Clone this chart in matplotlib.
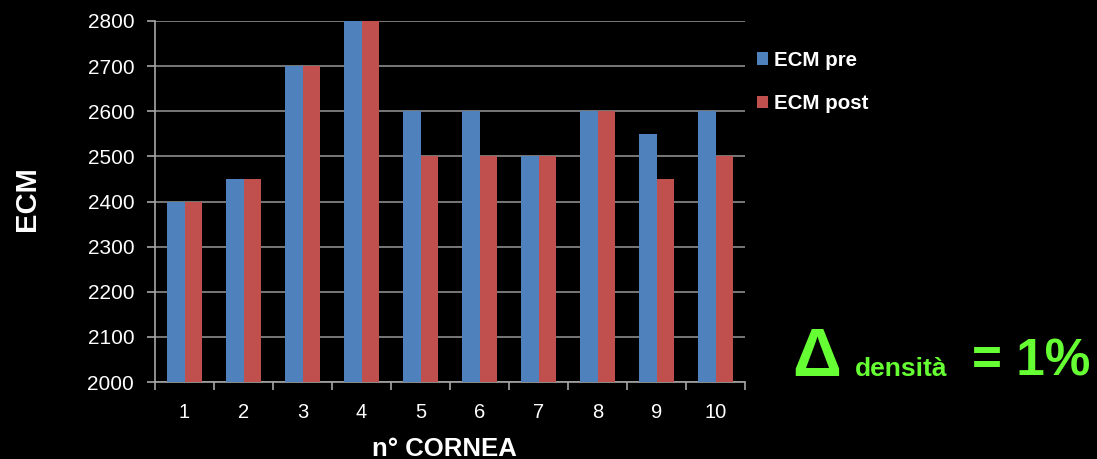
import numpy as np
import matplotlib.pyplot as plt

# ECM before and after, per cornea
cornea = ['1', '2', '3', '4', '5', '6', '7', '8', '9', '10']
ecm_pre = [2400, 2450, 2700, 2800, 2600, 2600, 2500, 2600, 2550, 2600]
ecm_post = [2400, 2450, 2700, 2800, 2500, 2500, 2500, 2600, 2450, 2500]

plt.rcParams['font.family'] = ['Liberation Sans', 'DejaVu Sans']

W, H = 1097, 459
fig = plt.figure(figsize=(W / 100, H / 100), dpi=100, facecolor='black')
ax = fig.add_axes([155 / W, 1 - 382 / H, 590 / W, 361 / H])
ax.set_facecolor('black')

x = np.arange(len(cornea))
w = 0.29
ax.bar(x - w / 2, ecm_pre, w, color='#4F81BD', label='ECM pre', zorder=3)
ax.bar(x + w / 2, ecm_post, w, color='#C0504D', label='ECM post', zorder=3)

ax.set_ylim(2000, 2800)
ax.set_xlim(-0.5, len(cornea) - 0.5)
ax.set_yticks(range(2000, 2801, 100))
ax.set_xticks(x)
ax.set_xticklabels(cornea)
ax.set_xticks(np.arange(-0.5, len(cornea)), minor=True)
ax.yaxis.grid(True, color='#8c8c8c', lw=1.2, zorder=0)

for s in ['top', 'right']:
    ax.spines[s].set_visible(False)
for s in ['left', 'bottom']:
    ax.spines[s].set_color('#a6a6a6')
    ax.spines[s].set_linewidth(1.2)

ax.tick_params(axis='y', labelcolor='white', color='#a6a6a6', labelsize=15,
               length=6, width=1.2, pad=9)
ax.tick_params(axis='x', which='major', length=0, labelcolor='white', labelsize=14.5, pad=15)
ax.tick_params(axis='x', which='minor', length=6, width=1.2, color='#a6a6a6')

# axis titles
fig.text(444 / W, 1 - 456 / H, 'n° CORNEA', color='white', fontsize=18.5,
         fontweight='bold', ha='center', va='baseline')
fig.text(27 / W, 1 - 199 / H, 'ECM', color='white', fontsize=21, fontweight='bold',
         ha='center', va='center', rotation=90)

leg = ax.legend(loc='upper left', bbox_to_anchor=(1.02, 0.918), frameon=False,
                handlelength=0.55, handleheight=0.55, handletextpad=0.3,
                labelspacing=1.2, borderpad=0, borderaxespad=0,
                prop={'weight': 'bold', 'size': 14.8})
for t in leg.get_texts():
    t.set_color('white')

green = '#66FF33'
fig.text(792 / W, 1 - 376 / H, 'Δ', color=green, fontsize=49, fontweight='bold',
         ha='left', va='baseline')
fig.text(855 / W, 1 - 376 / H, 'densità', color=green, fontsize=19, fontweight='bold',
         ha='left', va='baseline')
fig.text(972 / W, 1 - 376 / H, '= 1%', color=green, fontsize=37, fontweight='bold',
         ha='left', va='baseline')

plt.savefig('out.png', facecolor='black')
